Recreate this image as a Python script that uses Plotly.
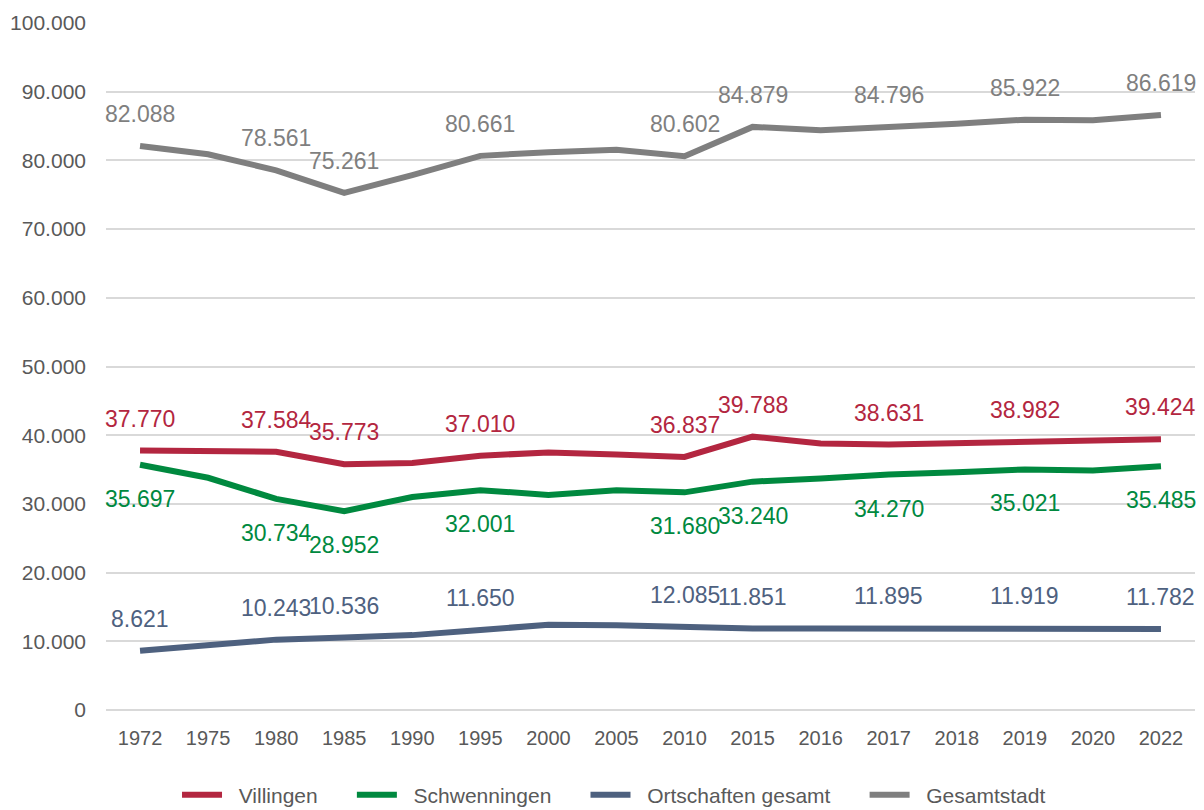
import plotly.graph_objects as go

years = ["1972", "1975", "1980", "1985", "1990", "1995", "2000", "2005",
         "2010", "2015", "2016", "2017", "2018", "2019", "2020", "2022"]

villingen = [37770, 37700, 37584, 35773, 35950, 37010, 37500, 37200,
             36837, 39788, 38800, 38631, 38850, 38982, 39150, 39424]
schwenningen = [35697, 33800, 30734, 28952, 31000, 32001, 31300, 32000,
                31680, 33240, 33700, 34270, 34600, 35021, 34850, 35485]
ortschaften = [8621, 9400, 10243, 10536, 10900, 11650, 12400, 12350,
               12085, 11851, 11880, 11895, 11900, 11919, 11850, 11782]
gesamtstadt = [82088, 80900, 78561, 75261, 77850, 80661, 81200, 81550,
               80602, 84879, 84380, 84796, 85350, 85922, 85850, 86619]

label_idx = [0, 2, 3, 5, 8, 9, 11, 13, 15]

series = [
    ("Villingen", villingen, "#B32640", -32),
    ("Schwenningen", schwenningen, "#00893F", 34),
    ("Ortschaften gesamt", ortschaften, "#4E617F", -32),
    ("Gesamtstadt", gesamtstadt, "#7F7F7F", -32),
]

FONT = "Liberation Sans, Arial, sans-serif"
NB = "\u00a0"

def fmt(v):
    return f"{v:,}".replace(",", ".")

fig = go.Figure()
annotations = []
for k, (name, vals, color, shift) in enumerate(series):
    legend_name = NB * 2 + name + (NB * 5 if k < len(series) - 1 else "")
    fig.add_trace(go.Scatter(
        x=years, y=vals, name=legend_name, mode="lines",
        line=dict(color=color, width=6),
        hoverinfo="skip",
    ))
    for i in label_idx:
        annotations.append(dict(
            x=i, y=vals[i], xref="x", yref="y",
            text=fmt(vals[i]), showarrow=False,
            yshift=-shift, font=dict(size=23, color=color, family=FONT),
        ))

fig.update_layout(
    width=1196, height=802,
    margin=dict(l=98, r=9, t=15, b=100, autoexpand=False),
    paper_bgcolor="white", plot_bgcolor="white",
    separators=",.",
    font=dict(family=FONT, color="#595959", size=20),
    annotations=annotations,
    showlegend=True,
    legend=dict(orientation="h", x=0.4665, xanchor="center", y=-0.124, yanchor="middle",
                font=dict(size=21, color="#595959"), itemwidth=40,
                traceorder="normal"),
)
fig.update_xaxes(type="category", range=[-0.5, 15.5], showgrid=False,
                 showline=False, ticks="", ticklabelstandoff=14,
                 tickfont=dict(size=20, color="#595959"))
fig.update_yaxes(range=[0, 100000], dtick=10000, tickformat=",d",
                 showgrid=True, gridcolor="#D9D9D9", gridwidth=1.5,
                 zeroline=True, zerolinecolor="#D9D9D9", zerolinewidth=1.5,
                 showline=False, ticks="", ticklabelstandoff=19,
                 tickfont=dict(size=21, color="#595959"))

fig.write_html("out.html")
